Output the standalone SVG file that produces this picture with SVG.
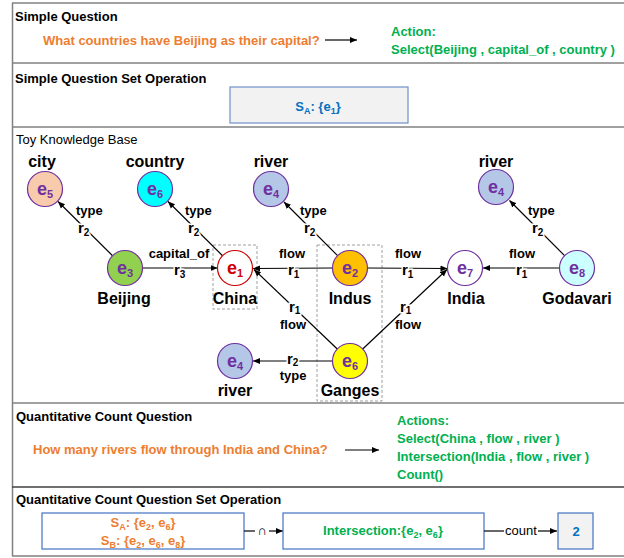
<svg xmlns="http://www.w3.org/2000/svg" width="624" height="558" viewBox="0 0 624 558">
<style>
text{font-family:"Liberation Sans",Arial,sans-serif;}
.title{font-size:13px;font-weight:bold;fill:#000;}
.titler{font-size:13px;fill:#000;}
.orange{font-size:13px;font-weight:bold;fill:#ED7D31;}
.green{font-size:13px;font-weight:bold;fill:#00B050;}
.blue{font-size:13px;font-weight:bold;fill:#0070C0;}
.frame{stroke:#808080;stroke-width:1.5;fill:none;}
.node{stroke:#7030A0;stroke-width:1.2;}
.elab{font-size:18px;font-weight:bold;fill:#7030A0;text-anchor:middle;}
.nlab{font-size:16px;font-weight:bold;fill:#000;text-anchor:middle;}
.edge{stroke:#000;stroke-width:1.2;fill:none;marker-end:url(#arr);}
.rl{font-size:15px;font-weight:bold;fill:#000;stroke:#fff;stroke-width:3;paint-order:stroke;}
.el{font-size:13px;font-weight:bold;fill:#000;stroke:#fff;stroke-width:2;paint-order:stroke;}
.dash{fill:none;stroke:#A0A0A0;stroke-width:1;stroke-dasharray:3,2;}
.box{fill:#fff;stroke:#4472C4;stroke-width:1.2;}
.gbox{fill:#F2F2F2;stroke:#4472C4;stroke-width:1.2;}
</style>
<defs>
<marker id="arr" markerUnits="userSpaceOnUse" markerWidth="8" markerHeight="8" refX="7" refY="3.5" orient="auto">
<path d="M0,0.5 L7,3.5 L0,6.5 z" fill="#000"/>
</marker>
</defs>
<rect width="624" height="558" fill="#fff"/>

<g id="frame">
<line class="frame" x1="12.5" y1="3" x2="12.5" y2="556"/>
<line class="frame" x1="12" y1="3" x2="624" y2="3"/>
<line class="frame" x1="12" y1="63" x2="624" y2="63"/>
<line class="frame" x1="12" y1="127" x2="624" y2="127"/>
<line class="frame" x1="12" y1="403" x2="624" y2="403"/>
<line class="frame" x1="12" y1="487" x2="624" y2="487" style="stroke:#404040"/>
<line class="frame" x1="12" y1="556" x2="624" y2="556"/>
</g>

<g id="section-simple">
<text class="title" x="15" y="21">Simple Question</text>
<text class="orange" x="43" y="44.5">What countries have Beijing as their capital?</text>
<line x1="325" y1="40" x2="357" y2="40" stroke="#000" stroke-width="1.2" marker-end="url(#arr)"/>
<text class="green" x="391" y="36">Action:</text>
<text class="green" x="391" y="53.5">Select(Beijing , capital_of , country )</text>
</g>

<g id="section-simple-set">
<text class="title" x="15" y="83">Simple Question Set Operation</text>
<rect x="230" y="87" width="178" height="36" fill="#F2F2F2" stroke="#7090C8" stroke-width="1.2"/>
<text class="blue" x="318" y="111" text-anchor="middle">S<tspan font-size="9" dy="3">A</tspan><tspan dy="-3">: {e</tspan><tspan font-size="9" dy="3">1</tspan><tspan dy="-3">}</tspan></text>
</g>

<g id="section-kb">
<text class="titler" x="16" y="144">Toy Knowledge Base</text>
<rect class="dash" x="213" y="245" width="44" height="64"/>
<rect class="dash" x="317" y="245" width="65" height="156"/>
</g>

<g id="connectors">
<line class="edge" x1="112.5" y1="255.7" x2="58" y2="201.5"/>
<line class="edge" x1="222.5" y1="255.7" x2="168" y2="201.5"/>
<line class="edge" x1="337.6" y1="255.6" x2="284" y2="202"/>
<line class="edge" x1="564.6" y1="255.6" x2="509.5" y2="200.5"/>
<line class="edge" x1="142.5" y1="268" x2="217.5" y2="268"/>
<line class="edge" x1="332.5" y1="268" x2="253" y2="268.5"/>
<line class="edge" x1="367.5" y1="268" x2="447.5" y2="268.5"/>
<line class="edge" x1="559.5" y1="268" x2="483" y2="268"/>
<line class="edge" x1="337.3" y1="349" x2="254" y2="269.5"/>
<line class="edge" x1="362.7" y1="349" x2="447" y2="269.5"/>
<line class="edge" x1="332.5" y1="361" x2="253" y2="361"/>

<text class="el" x="76" y="214.5">type</text>
<text class="rl" x="78" y="233">r<tspan font-size="10" dy="2.5">2</tspan></text>
<text class="el" x="185" y="214.5">type</text>
<text class="rl" x="188" y="233">r<tspan font-size="10" dy="2.5">2</tspan></text>
<text class="el" x="300" y="214.5">type</text>
<text class="rl" x="304" y="233">r<tspan font-size="10" dy="2.5">2</tspan></text>
<text class="el" x="528" y="214.5">type</text>
<text class="rl" x="532" y="233">r<tspan font-size="10" dy="2.5">2</tspan></text>

<text class="el" x="179" y="258" text-anchor="middle">capital_of</text>
<text class="rl" x="174" y="275">r<tspan font-size="10" dy="2.5">3</tspan></text>
<text class="el" x="292" y="258" text-anchor="middle">flow</text>
<text class="rl" x="288" y="275">r<tspan font-size="10" dy="2.5">1</tspan></text>
<text class="el" x="408" y="258" text-anchor="middle">flow</text>
<text class="rl" x="402" y="275">r<tspan font-size="10" dy="2.5">1</tspan></text>
<text class="el" x="522" y="258" text-anchor="middle">flow</text>
<text class="rl" x="516" y="275">r<tspan font-size="10" dy="2.5">1</tspan></text>

<text class="rl" x="289" y="312">r<tspan font-size="10" dy="2">1</tspan></text>
<text class="el" x="293" y="329" text-anchor="middle">flow</text>
<text class="rl" x="400" y="312">r<tspan font-size="10" dy="2">1</tspan></text>
<text class="el" x="408" y="329" text-anchor="middle">flow</text>
<text class="rl" x="287" y="364">r<tspan font-size="10" dy="2">2</tspan></text>
<text class="el" x="293" y="380" text-anchor="middle">type</text>
</g>

<g id="n-e5">
<circle class="node" cx="45" cy="189" r="17.5" fill="#F8CBAD"/>
<text class="elab" x="45" y="194.5">e<tspan font-size="11" dy="3">5</tspan></text>
<text class="nlab" x="42" y="167">city</text>
</g>
<g id="n-e6-country">
<circle class="node" cx="155" cy="189" r="17.5" fill="#00FFFF"/>
<text class="elab" x="155" y="194.5">e<tspan font-size="11" dy="3">6</tspan></text>
<text class="nlab" x="155" y="167">country</text>
</g>
<g id="n-e4-top">
<circle class="node" cx="271" cy="189" r="17.5" fill="#B4C7E7"/>
<text class="elab" x="271" y="194.5">e<tspan font-size="11" dy="3">4</tspan></text>
<text class="nlab" x="271" y="167">river</text>
</g>
<g id="n-e4-right">
<circle class="node" cx="496" cy="187" r="17.5" fill="#B4C7E7"/>
<text class="elab" x="496" y="192.5">e<tspan font-size="11" dy="3">4</tspan></text>
<text class="nlab" x="496" y="167">river</text>
</g>
<g id="n-e3">
<circle class="node" cx="125" cy="268" r="17.5" fill="#92D050"/>
<text class="elab" x="125" y="273.5">e<tspan font-size="11" dy="3">3</tspan></text>
<text class="nlab" x="124" y="304">Beijing</text>
</g>
<g id="n-e1">
<circle cx="235" cy="268" r="17.5" fill="#fff" stroke="#D00000" stroke-width="1.2"/>
<text class="elab" x="235" y="273.5" style="fill:#D00000">e<tspan font-size="11" dy="3">1</tspan></text>
<text class="nlab" x="235" y="304">China</text>
</g>
<g id="n-e2">
<circle class="node" cx="350" cy="268" r="17.5" fill="#FFC000"/>
<text class="elab" x="350" y="273.5">e<tspan font-size="11" dy="3">2</tspan></text>
<text class="nlab" x="350" y="304">Indus</text>
</g>
<g id="n-e7">
<circle class="node" cx="465" cy="268" r="17.5" fill="#fff"/>
<text class="elab" x="465" y="273.5">e<tspan font-size="11" dy="3">7</tspan></text>
<text class="nlab" x="466" y="304">India</text>
</g>
<g id="n-e8">
<circle class="node" cx="577" cy="268" r="17.5" fill="#CCFFFF"/>
<text class="elab" x="577" y="273.5">e<tspan font-size="11" dy="3">8</tspan></text>
<text class="nlab" x="577" y="304">Godavari</text>
</g>
<g id="n-e6-ganges">
<circle class="node" cx="350" cy="361" r="17.5" fill="#FFFF00"/>
<text class="elab" x="350" y="366.5">e<tspan font-size="11" dy="3">6</tspan></text>
<text class="nlab" x="350" y="396">Ganges</text>
</g>
<g id="n-e4-bottom">
<circle class="node" cx="235" cy="361" r="17.5" fill="#B4C7E7"/>
<text class="elab" x="235" y="366.5">e<tspan font-size="11" dy="3">4</tspan></text>
<text class="nlab" x="235" y="396">river</text>
</g>

<g id="section-count">
<text class="title" x="16" y="421">Quantitative Count Question</text>
<text class="orange" x="33" y="454">How many rivers flow through India and China?</text>
<line x1="345" y1="450" x2="379" y2="450" stroke="#000" stroke-width="1.2" marker-end="url(#arr)"/>
<text class="green" x="397" y="425">Actions:</text>
<text class="green" x="397" y="443">Select(China , flow , river )</text>
<text class="green" x="397" y="461">Intersection(India , flow , river )</text>
<text class="green" x="397" y="479">Count()</text>
</g>

<g id="section-count-set">
<text class="title" x="16" y="504">Quantitative Count Question Set Operation</text>
<g id="box-sets">
<rect class="box" x="42" y="513" width="202" height="36"/>
<text class="orange" x="143" y="527" text-anchor="middle">S<tspan font-size="9" dy="3">A</tspan><tspan dy="-3">: {e</tspan><tspan font-size="9" dy="3">2</tspan><tspan dy="-3">, e</tspan><tspan font-size="9" dy="3">6</tspan><tspan dy="-3">}</tspan></text>
<text class="orange" x="143" y="545" text-anchor="middle">S<tspan font-size="9" dy="3">B</tspan><tspan dy="-3">: {e</tspan><tspan font-size="9" dy="3">2</tspan><tspan dy="-3">, e</tspan><tspan font-size="9" dy="3">6</tspan><tspan dy="-3">, e</tspan><tspan font-size="9" dy="3">8</tspan><tspan dy="-3">}</tspan></text>
</g>
<g id="conn-intersect">
<line x1="244" y1="531" x2="255" y2="531" stroke="#000" stroke-width="1.2"/>
<text class="titler" x="262" y="535" text-anchor="middle">∩</text>
<line x1="269" y1="531" x2="283" y2="531" stroke="#000" stroke-width="1.2" marker-end="url(#arr)"/>
</g>
<g id="box-intersection">
<rect class="box" x="283" y="513" width="201" height="36"/>
<text class="green" x="383" y="535" text-anchor="middle">Intersection:{e<tspan font-size="9" dy="3">2</tspan><tspan dy="-3">, e</tspan><tspan font-size="9" dy="3">6</tspan><tspan dy="-3">}</tspan></text>
</g>
<g id="conn-count">
<line x1="484" y1="531" x2="504" y2="531" stroke="#000" stroke-width="1.2"/>
<text class="titler" x="521" y="535" text-anchor="middle">count</text>
<line x1="538" y1="531" x2="557" y2="531" stroke="#000" stroke-width="1.2" marker-end="url(#arr)"/>
</g>
<g id="box-result">
<rect class="gbox" x="558" y="513" width="35" height="36"/>
<text class="blue" x="576" y="536" text-anchor="middle" font-size="14">2</text>
</g>
</g>
</svg>
